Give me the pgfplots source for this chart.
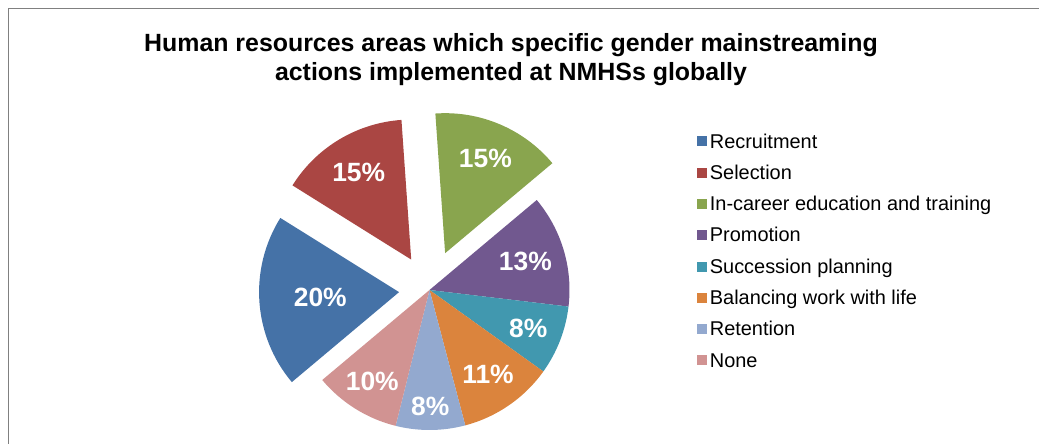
\documentclass[border=0pt]{standalone}
\usepackage{fontspec}
\setmainfont{Liberation Sans}
\usepackage{pgfplots}
\usepackage{pgfplotstable}
\pgfplotsset{compat=1.18}

\definecolor{cRec}{HTML}{4572A7}
\definecolor{cSel}{HTML}{AA4643}
\definecolor{cCar}{HTML}{89A54E}
\definecolor{cPro}{HTML}{71588F}
\definecolor{cSuc}{HTML}{4198AF}
\definecolor{cBal}{HTML}{DB843D}
\definecolor{cRet}{HTML}{93A9CF}
\definecolor{cNon}{HTML}{D19392}
\definecolor{frameGray}{HTML}{808080}

% share in %, explode offset and label distance in px
\pgfplotstableread[col sep=comma]{
area,share,explode,labr,colour
Recruitment,20,30.5,79,cRec
Selection,15,35.5,102,cSel
In-career education and training,15,40,103,cCar
Promotion,13,0,100,cPro
Succession planning,8,0,106,cSuc
Balancing work with life,11,0,103,cBal
Retention,8,0,116,cRet
None,10,0,108,cNon
}\hrdata

\def\piecx{429.5}
\def\piecy{154}
\def\pier{140}
\xdef\piestart{220}

\newcommand\pieslice[1]{%
  \pgfplotstablegetelem{#1}{share}\of\hrdata \let\sh\pgfplotsretval
  \pgfplotstablegetelem{#1}{explode}\of\hrdata \let\ex\pgfplotsretval
  \pgfplotstablegetelem{#1}{labr}\of\hrdata \let\lr\pgfplotsretval
  \pgfplotstablegetelem{#1}{colour}\of\hrdata \let\col\pgfplotsretval
  \pgfmathsetmacro\aend{\piestart-3.6*\sh}
  \pgfmathsetmacro\amid{(\piestart+\aend)/2}
  \pgfmathsetmacro\ox{\piecx+\ex*cos(\amid)}
  \pgfmathsetmacro\oy{\piecy+\ex*sin(\amid)}
  \pgfmathsetmacro\lx{\ox+\lr*cos(\amid)}
  \pgfmathsetmacro\ly{\oy+\lr*sin(\amid)}
  \edef\temp{%
    \noexpand\fill[\col] (axis cs:\ox,\oy) -- ++(\piestart:\pier bp)
      arc[start angle=\piestart, end angle=\aend, radius=\pier bp] -- cycle;
    \noexpand\node[text=white, font=\noexpand\bfseries\noexpand\fontsize{26.5}{30}\noexpand\selectfont]
      at (axis cs:\lx,\ly) {\sh\noexpand\%};}%
  \temp
  \xdef\piestart{\aend}%
}

\newcommand\legendrow[1]{%
  \pgfplotstablegetelem{#1}{area}\of\hrdata \let\nm\pgfplotsretval
  \pgfplotstablegetelem{#1}{colour}\of\hrdata \let\col\pgfplotsretval
  \edef\temp{\noexpand\addlegendimage{\col}\noexpand\addlegendentry{\nm}}%
  \temp
}

\begin{document}
\begin{tikzpicture}
\useasboundingbox (0,0) rectangle (1039bp,444bp);
\begin{axis}[
    hide axis,
    disabledatascaling,
    x=1bp, y=1bp,
    xmin=0, xmax=1039, ymin=0, ymax=444,
    at={(0,0)}, anchor=south west,
    clip=false,
    legend image code/.code={\fill[#1] (0bp,-4.5bp) rectangle (9bp,4.5bp);},
    legend cell align=left,
    legend style={at={(axis cs:697,310)}, anchor=north west,
        draw=none, fill=none, inner sep=0pt, outer sep=0pt,
        row sep=17.3bp, column sep=3.5bp,
        font=\fontsize{20}{22}\selectfont,
        nodes={inner sep=0pt, text height=14bp, text depth=0bp}},
]
\draw[line width=1.3bp, frameGray] (axis cs:8.5,-20) -- (axis cs:8.5,435.5) -- (axis cs:1060,435.5);

\node[font=\bfseries\fontsize{25}{30}\selectfont, anchor=base] at (axis cs:511,392.3)
    {Human resources areas which specific gender mainstreaming};
\node[font=\bfseries\fontsize{25}{30}\selectfont, anchor=base] at (axis cs:511,364)
    {actions implemented at NMHSs globally};

\pgfplotsinvokeforeach{0,...,7}{\pieslice{#1}}
\pgfplotsinvokeforeach{0,...,7}{\legendrow{#1}}
\end{axis}
\end{tikzpicture}
\end{document}
